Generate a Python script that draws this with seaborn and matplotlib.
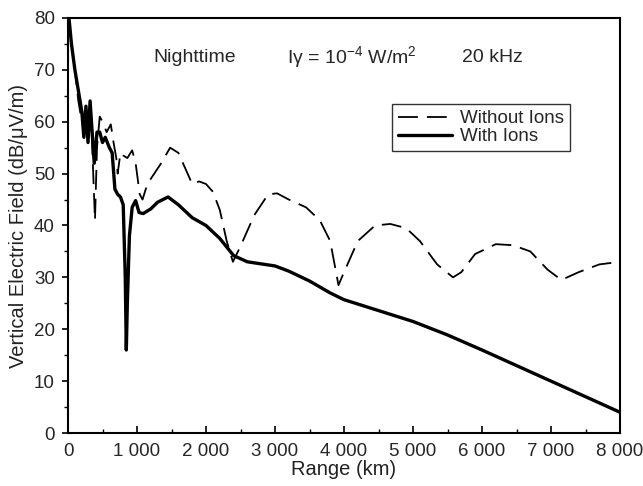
import matplotlib
matplotlib.use("Agg")
import matplotlib.pyplot as plt
import seaborn as sns
import pandas as pd
from matplotlib.ticker import FixedLocator, MultipleLocator

# ---- data ----
with_x = [0, 50, 100, 150, 200, 230, 260, 290, 320, 350, 380, 420, 460, 500, 540,
          600, 640, 680, 720, 760, 800, 830, 845, 860, 890, 930, 980, 1030, 1090,
          1200, 1300, 1450, 1600, 1800, 2000, 2200, 2400, 2600, 2800, 3000, 3200,
          3500, 3800, 4000, 4500, 5000, 5500, 6000, 6500, 7000, 7500, 8000]
with_y = [82, 75, 70, 66, 62, 57, 63, 56, 64, 58, 52, 58, 58, 56, 57,
          55, 54, 47, 46, 45.5, 44, 30, 16, 25, 38, 43.5, 44.8, 42.5, 42.3,
          43.2, 44.5, 45.5, 44, 41.5, 40, 37.5, 34.2, 33, 32.6, 32.2, 31.2,
          29.3, 27, 25.7, 23.6, 21.5, 18.9, 16, 13, 10, 7, 4]

without_x = [0, 50, 100, 150, 200, 250, 300, 330, 360, 391, 420, 460, 500, 560,
             620, 660, 700, 720, 760, 800, 860, 930, 980, 1040, 1080, 1150, 1250,
             1350, 1480, 1600, 1700, 1800, 1900, 2000, 2100, 2200, 2300, 2390,
             2500, 2700, 2900, 3030, 3200, 3450, 3650, 3800, 3920, 4000, 4200,
             4450, 4670, 4900, 5100, 5350, 5580, 5700, 5900, 6200, 6450, 6700,
             6950, 7150, 7400, 7700, 8000]
without_y = [82, 75, 70, 64, 60, 62, 58, 63, 52, 41, 55, 61, 60, 58,
             59.5, 56, 53, 50, 54, 53.5, 53, 54.5, 52, 46, 45, 48, 50,
             52, 55, 54, 51, 48, 48.5, 48, 46.5, 43, 37, 33,
             36, 42, 46, 46.2, 45, 43.5, 41, 37, 28.5, 31, 37,
             40, 40.3, 39.5, 37, 32.5, 30, 31, 34.5, 36.4, 36.2, 35,
             31.5, 29.5, 31, 32.5, 33]

x_ticks = [0, 1000, 2000, 3000, 4000, 5000, 6000, 7000, 8000]
x_ticklabels = ["0", "1 000", "2 000", "3 000", "4 000", "5 000", "6 000", "7 000", "8 000"]
y_ticks = [0, 10, 20, 30, 40, 50, 60, 70, 80]

sns.set_theme(style="white")
plt.rcParams["font.family"] = ["Liberation Sans", "DejaVu Sans"]
plt.rcParams["mathtext.fontset"] = "custom"
plt.rcParams["mathtext.rm"] = "Liberation Sans"
plt.rcParams["mathtext.it"] = "Liberation Sans"

fig = plt.figure(figsize=(6.43, 4.86), dpi=100)
ax = fig.add_axes([68/643, 1-433/486, 552/643, 415/486])

df_wo = pd.DataFrame({"x": without_x, "y": without_y})
df_w = pd.DataFrame({"x": with_x, "y": with_y})
sns.lineplot(data=df_wo, x="x", y="y", ax=ax, color="black", lw=1.3,
             linestyle=(0, (11, 5)), label="Without Ions", sort=False)
sns.lineplot(data=df_w, x="x", y="y", ax=ax, color="black", lw=2.4,
             label="With Ions", sort=False)

ax.set_xlim(0, 8000)
ax.set_ylim(0, 80)
ax.xaxis.set_major_locator(FixedLocator(x_ticks))
ax.set_xticklabels(x_ticklabels)
ax.xaxis.set_minor_locator(MultipleLocator(500))
ax.yaxis.set_major_locator(FixedLocator(y_ticks))
ax.yaxis.set_minor_locator(MultipleLocator(5))
ax.tick_params(axis="x", which="both", direction="in", bottom=True, top=False,
               labelsize=13.5, pad=7, color="black")
ax.tick_params(axis="x", which="major", length=5, width=1.2)
ax.tick_params(axis="x", which="minor", length=3, width=1.0)
ax.tick_params(axis="y", which="both", direction="out", left=True, right=False,
               labelsize=13.5, pad=5, color="black")
ax.tick_params(axis="y", which="major", length=4.5, width=1.2)
ax.tick_params(axis="y", which="minor", length=3, width=1.0)
for sp in ax.spines.values():
    sp.set_color("black")
    sp.set_linewidth(1.5)

ax.set_xlabel("Range (km)", fontsize=14.5, labelpad=0, color="#222222")
ax.set_ylabel("Vertical Electric Field (dB/\u03bcV/m)", fontsize=14.5, labelpad=4, color="#222222")

ax.text(0.154, 0.906, "Nighttime", transform=ax.transAxes, fontsize=14, ha="left", va="center")
ax.text(0.397, 0.906, r"I$\gamma$ = 10$^{-4}$ W/m$^2$", transform=ax.transAxes,
        fontsize=14, ha="left", va="center")
ax.text(0.714, 0.906, "20 kHz", transform=ax.transAxes, fontsize=14, ha="left", va="center")

leg = ax.legend(loc="upper left", bbox_to_anchor=(0.587, 0.792), frameon=True,
                fancybox=False, fontsize=13.5, handlelength=2.9, handletextpad=0.45,
                borderpad=0.3, labelspacing=0.05, borderaxespad=0)
leg.get_frame().set_edgecolor("black")
leg.get_frame().set_linewidth(1.0)

fig.savefig("out.png", dpi=100)
